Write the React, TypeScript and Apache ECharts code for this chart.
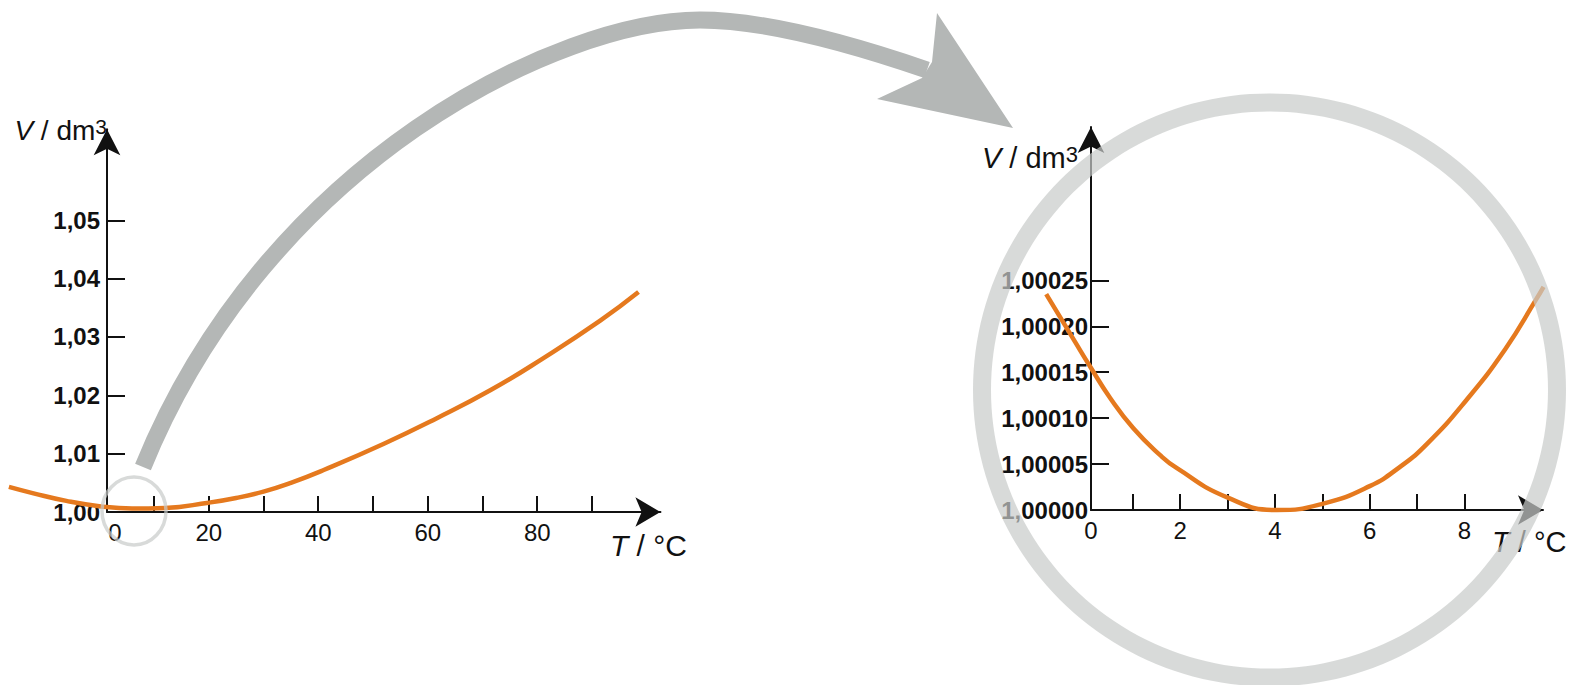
import React, { useEffect, useRef } from "react";
import * as echarts from "echarts";

// ---- data ----
const leftT = [-16.5, -12, -6, 0, 6, 12, 20, 25, 30, 35, 41, 52, 61.5, 71.5, 81, 91.5, 98.5];
const leftV = [1.0043, 1.0032, 1.0019, 1.001, 1.0006, 1.0007, 1.0016, 1.0024, 1.0035, 1.005, 1.0072, 1.0117, 1.016, 1.0209, 1.0263, 1.0328, 1.0377];

const rightT = [-0.83, -0.22, 0.1, 0.52, 1.01, 1.57, 1.93, 2.98, 4.04, 5.02, 6.0, 6.64, 7.21, 8.03, 8.86, 9.51, 9.67];
const rightV = [1.000235, 1.000183, 1.000156, 1.000122, 1.000089, 1.00006, 1.0000455, 1.000014, 1.0, 1.000007, 1.000026, 1.000047, 1.000072, 1.000119, 1.000175, 1.000229, 1.000243];

const leftXTicks = [10, 20, 30, 40, 50, 60, 70, 80, 90];
const leftXLabels = [0, 20, 40, 60, 80];
const leftYTicks = [1.01, 1.02, 1.03, 1.04, 1.05];
const leftYLabels = [1.0, 1.01, 1.02, 1.03, 1.04, 1.05];

const rightXTicks = [1, 2, 3, 4, 5, 6, 7, 8];
const rightXLabels = [0, 2, 4, 6, 8];
const rightYTicks = [1.00005, 1.0001, 1.00015, 1.0002, 1.00025];
const rightYLabels = [1.0, 1.00005, 1.0001, 1.00015, 1.0002, 1.00025];

// visible axis ranges (where the drawn axes start / end)
const leftXMin = 1.42;
const leftXMax = 102.5;
const leftYMin = 1.0;
const leftYMax = 1.0656;
const rightXMin = 0.116;
const rightXMax = 9.658;
const rightYMin = 1.0;
const rightYMax = 1.000417;
// wider (hidden) ranges on the same scale, so the curves can run past the drawn axes
const leftCurveXMin = -20;
const rightCurveXMin = -1;
const rightCurveXMax = 10;

const FONT = "'Liberation Sans', Arial, sans-serif";
const INK = "#111111";
const ORANGE = "#e5791e";
const ARROW_GRAY = "#b4b7b6";
const RING_GRAY = "rgba(200,202,201,0.7)";

// px per unit (shared by visible and hidden axes)
const LPX = 5.475;
const RPX = 47.37;

function xAxisCfg(gridIndex: number, min: number, max: number, ticks: number[], labels: number[], nameGap: number, namePad: number, firstPad: number, nameSize: number) {
  return {
    type: "value",
    gridIndex,
    min,
    max,
    splitLine: { show: false },
    axisLine: {
      onZero: false,
      lineStyle: { color: INK, width: 2 },
      symbol: ["none", "arrow"],
      symbolSize: [22, 25],
    },
    axisTick: { show: true, inside: true, length: 16, lineStyle: { color: INK, width: 2 }, customValues: ticks },
    axisLabel: {
      customValues: labels.map((v) => Math.max(v, min)),
      margin: 8,
      color: INK,
      fontSize: 24,
      fontFamily: FONT,
      formatter: (v: number) => (v < 1.5 ? "{z|0}" : String(Math.round(v))),
      rich: { z: { fontSize: 24, fontFamily: FONT, color: INK, padding: [0, 0, 0, firstPad] } },
    },
    name: "{i|T}{n| / °C}",
    nameLocation: "end",
    nameGap,
    nameMoveOverlap: false,
    nameTextStyle: {
      align: "left",
      verticalAlign: "top",
      padding: [namePad, 0, 0, 0],
      rich: {
        i: { fontSize: nameSize, fontStyle: "italic", fontFamily: FONT, color: INK },
        n: { fontSize: nameSize, fontFamily: FONT, color: INK },
      },
    },
  };
}

function yAxisCfg(gridIndex: number, min: number, max: number, ticks: number[], labels: number[], digits: number, margin: number, nameGap: number, nameSize: number, padRight: number) {
  return {
    type: "value",
    gridIndex,
    min,
    max,
    splitLine: { show: false },
    axisLine: {
      onZero: false,
      lineStyle: { color: INK, width: 2 },
      symbol: ["none", "arrow"],
      symbolSize: [20, 26],
    },
    axisTick: { show: true, inside: true, length: 18, lineStyle: { color: INK, width: 2 }, customValues: ticks },
    axisLabel: {
      customValues: labels,
      margin,
      color: INK,
      fontSize: 24,
      fontWeight: "bold",
      fontFamily: FONT,
      formatter: (v: number) => v.toFixed(digits).replace(".", ","),
    },
    name: "{i|V}{n| / dm}{s|3}",
    nameLocation: "end",
    nameGap,
    nameMoveOverlap: false,
    nameTextStyle: {
      align: "right",
      verticalAlign: "middle",
      padding: [0, padRight, 0, 0],
      rich: {
        i: { fontSize: nameSize, fontStyle: "italic", fontFamily: FONT, color: INK },
        n: { fontSize: nameSize, fontFamily: FONT, color: INK },
        s: { fontSize: Math.round(nameSize * 0.76), fontFamily: FONT, color: INK, verticalAlign: "top" },
      },
    },
  };
}

function hiddenAxis(gridIndex: number, min: number, max: number) {
  return { type: "value", gridIndex, min, max, show: false, splitLine: { show: false } };
}

export default function App() {
  const ref = useRef<HTMLDivElement>(null);

  useEffect(() => {
    if (!ref.current) return;
    const bandPath = "M143,467 C268,160 560,20 700,20 C770,20 860,47 927,70";
    echarts.graphic.registerShape("arcBand", echarts.graphic.extendPath(bandPath, {}));

    const chart = echarts.init(ref.current, null, { renderer: "svg" });
    const headPts = [[937, 13], [1013, 128], [877, 99], [922, 78], [932, 62]];

    // geometry of the visible grids
    const g0 = { left: 107, top: 129.3, width: (leftXMax - leftXMin) * LPX, height: 382.7 };
    const g1 = { left: 1091, top: 127, width: (rightXMax - rightXMin) * RPX, height: 383 };
    // hidden grids: same scale, wider x extent
    const g2 = { left: g0.left - (leftXMin - leftCurveXMin) * LPX, top: g0.top, width: (leftXMax - leftCurveXMin) * LPX, height: g0.height };
    const g3 = { left: g1.left - (rightXMin - rightCurveXMin) * RPX, top: g1.top, width: (rightCurveXMax - rightCurveXMin) * RPX, height: g1.height };

    const gridBase = { containLabel: false, outerBoundsMode: "none" };

    chart.setOption({
      animation: false,
      backgroundColor: "#ffffff",
      grid: [
        { ...gridBase, ...g0 },
        { ...gridBase, ...g1 },
        { ...gridBase, ...g2 },
        { ...gridBase, ...g3 },
      ],
      xAxis: [
        xAxisCfg(0, leftXMin, leftXMax, leftXTicks, leftXLabels, -50.5, 18, 16, 30),
        xAxisCfg(1, rightXMin, rightXMax, rightXTicks, rightXLabels, -51, 17, 0, 29),
        hiddenAxis(2, leftCurveXMin, leftXMax),
        hiddenAxis(3, rightCurveXMin, rightCurveXMax),
      ],
      yAxis: [
        yAxisCfg(0, leftYMin, leftYMax, leftYTicks, leftYLabels, 2, 7, -1, 28, 0),
        yAxisCfg(1, rightYMin, rightYMax, rightYTicks, rightYLabels, 5, 3, -31, 29, 13),
        hiddenAxis(2, leftYMin, leftYMax),
        hiddenAxis(3, rightYMin, rightYMax),
      ],
      series: [
        {
          type: "line",
          xAxisIndex: 2,
          yAxisIndex: 2,
          data: leftT.map((t, i) => [t, leftV[i]]),
          smooth: 0.5,
          showSymbol: false,
          clip: false,
          lineStyle: { color: ORANGE, width: 4.5 },
          z: 3,
        },
        {
          type: "line",
          xAxisIndex: 3,
          yAxisIndex: 3,
          data: rightT.map((t, i) => [t, rightV[i]]),
          smooth: 0.5,
          showSymbol: false,
          clip: false,
          lineStyle: { color: ORANGE, width: 4.5 },
          z: 3,
        },
      ],
      graphic: [
        {
          type: "arcBand",
          x: 0,
          y: 0,
          scaleX: 1,
          scaleY: 1,
          style: { stroke: ARROW_GRAY, lineWidth: 17, fill: "none", lineCap: "butt" },
          z: 5,
        },
        {
          type: "polygon",
          shape: { points: headPts },
          style: { fill: ARROW_GRAY },
          z: 5,
        },
        {
          type: "ellipse",
          shape: { cx: 134, cy: 511, rx: 32, ry: 34 },
          style: { fill: "none", stroke: RING_GRAY, lineWidth: 3.5 },
          z: 10,
        },
        {
          type: "ring",
          shape: { cx: 1269.5, cy: 390, r: 296.5, r0: 278.5 },
          style: { fill: RING_GRAY },
          z: 10,
        },
      ],
    });

    return () => chart.dispose();
  }, []);

  return (
    <div
      ref={ref}
      style={{ position: "fixed", left: 0, top: 0, width: 1570, height: 685, background: "#fff" }}
    />
  );
}
